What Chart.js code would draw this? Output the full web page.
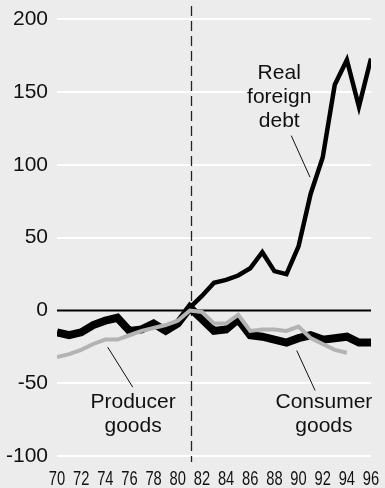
<!DOCTYPE html>
<html>
<head>
<meta charset="utf-8">
<script src="https://cdn.jsdelivr.net/npm/chart.js@4"></script>
<style>
  html, body { margin: 0; padding: 0; background: #ececec; }
  #wrap { width: 385px; height: 488px; position: relative; }
</style>
</head>
<body>
<div id="wrap"><canvas id="chart"></canvas></div>
<script>
const years = [70,71,72,73,74,75,76,77,78,79,80,81,82,83,84,85,86,87,88,89,90,91,92,93,94,95,96];
const debtYears = [81,82,83,84,85,86,87,88,89,90,91,92,93,94,95,96];
const debt = [2,10,19,21,24,29,40,27,25,44,80,105,155,172,140,173];
const consumer = [-15,-17,-15,-10,-7,-5,-14,-13,-9,-14,-9,2,-6,-14,-13,-6,-17,-18,-20,-22,-19,-17,-20,-19,-18,-22,-22];
const producerYears = years.slice(0, 25);
const producer = [-32,-30,-27,-23,-20,-20,-17,-14,-12,-10,-7,0,-1,-9,-9,-3,-14,-13,-13,-14,-11,-19,-23,-27,-29];
const xTicks = [70,72,74,76,78,80,82,84,86,88,90,92,94,96];
const yTicks = [-100,-50,0,50,100,150,200];
const markerYear = 81.1;

// text labels with their leader lines, in data units
const notes = [
  { lines: ["Real", "foreign", "debt"], x: 88.4, y: 163, from: [89.4, 120], to: [90.95, 91.5] },
  { lines: ["Producer", "goods"], x: 76.3, y: -63, from: [76.27, -52.6], to: [74.2, -25.2] },
  { lines: ["Consumer", "goods"], x: 92.1, y: -63, from: [91.37, -54.9], to: [89.85, -27.5] },
];

function pts(xs, ys) {
  return xs.map((x, i) => ({ x: x, y: ys[i] }));
}

const bgPlugin = {
  id: "bg",
  beforeDraw(chart) {
    const ctx = chart.ctx;
    ctx.save();
    ctx.fillStyle = "#ececec";
    ctx.fillRect(0, 0, chart.width, chart.height);
    ctx.restore();
  },
};

const extras = {
  id: "extras",
  beforeDatasetsDraw(chart) {
    const ctx = chart.ctx;
    const xs = chart.scales.x;
    const ys = chart.scales.y;
    const area = chart.chartArea;
    // zero line
    ctx.save();
    ctx.strokeStyle = "#000";
    ctx.lineWidth = 2;
    ctx.beginPath();
    ctx.moveTo(area.left, ys.getPixelForValue(0));
    ctx.lineTo(area.right, ys.getPixelForValue(0));
    ctx.stroke();
    // dashed marker
    const mx = Math.round(xs.getPixelForValue(markerYear)) + 0.5;
    ctx.strokeStyle = "#222";
    ctx.lineWidth = 1.3;
    ctx.setLineDash([10, 5]);
    ctx.beginPath();
    ctx.moveTo(mx, area.top);
    ctx.lineTo(mx, area.bottom);
    ctx.stroke();
    ctx.restore();
  },
  afterDatasetsDraw(chart) {
    const ctx = chart.ctx;
    const xs = chart.scales.x;
    const ys = chart.scales.y;
    ctx.save();
    ctx.fillStyle = "#111";
    ctx.strokeStyle = "#111";
    ctx.lineWidth = 1;
    ctx.font = "21px 'Liberation Sans', Arial, sans-serif";
    ctx.textAlign = "center";
    ctx.textBaseline = "middle";
    notes.forEach((n) => {
      const cx = xs.getPixelForValue(n.x);
      const cy = ys.getPixelForValue(n.y);
      n.lines.forEach((t, i) => ctx.fillText(t, cx, cy + i * 24));
      ctx.beginPath();
      ctx.moveTo(xs.getPixelForValue(n.from[0]), ys.getPixelForValue(n.from[1]));
      ctx.lineTo(xs.getPixelForValue(n.to[0]), ys.getPixelForValue(n.to[1]));
      ctx.stroke();
    });
    // condensed year labels under the axis
    ctx.textBaseline = "alphabetic";
    xTicks.forEach((v) => {
      ctx.save();
      ctx.translate(xs.getPixelForValue(v), chart.height - 3);
      ctx.scale(0.7, 1);
      ctx.fillText(String(v), 0, 0);
      ctx.restore();
    });
    ctx.restore();
  },
};

new Chart(document.getElementById("chart"), {
  type: "line",
  data: {
    datasets: [
      {
        label: "Producer goods",
        data: pts(producerYears, producer),
        borderColor: "#b3b3b3",
        borderWidth: 4,
      },
      {
        label: "Consumer goods",
        data: pts(years, consumer),
        borderColor: "#000",
        borderWidth: 8,
      },
      {
        label: "Real foreign debt",
        data: pts(debtYears, debt),
        borderColor: "#000",
        borderWidth: 4.5,
      },
    ],
  },
  options: {
    responsive: true,
    maintainAspectRatio: false,
    animation: false,
    events: [],
    layout: { autoPadding: false, padding: { left: 0, right: 14, top: 6, bottom: 0 } },
    elements: {
      point: { radius: 0 },
      line: { tension: 0, borderJoinStyle: "miter", borderCapStyle: "butt" },
    },
    plugins: {
      legend: { display: false },
      tooltip: { enabled: false },
    },
    scales: {
      x: {
        type: "linear",
        min: 70,
        max: 96,
        afterBuildTicks(axis) {
          axis.ticks = xTicks.map((v) => ({ value: v }));
        },
        afterFit(axis) {
          axis.height = 26;
          axis.paddingLeft = 0;
          axis.paddingRight = 0;
        },
        grid: { display: false, drawTicks: false },
        border: { display: false },
        ticks: { display: false },
      },
      y: {
        min: -104,
        max: 209,
        afterBuildTicks(axis) {
          axis.ticks = yTicks.map((v) => ({ value: v }));
        },
        afterFit(axis) {
          axis.width = 57;
          axis.paddingTop = 0;
          axis.paddingBottom = 0;
        },
        grid: {
          color: (c) => (c.tick && c.tick.value === 0 ? "rgba(0,0,0,0)" : "#ffffff"),
          lineWidth: 2,
          drawTicks: false,
        },
        border: { display: false },
        ticks: {
          color: "#111",
          padding: 9,
          font: { family: "'Liberation Sans', Arial", size: 21 },
        },
      },
    },
  },
  plugins: [bgPlugin, extras],
});
</script>
</body>
</html>
